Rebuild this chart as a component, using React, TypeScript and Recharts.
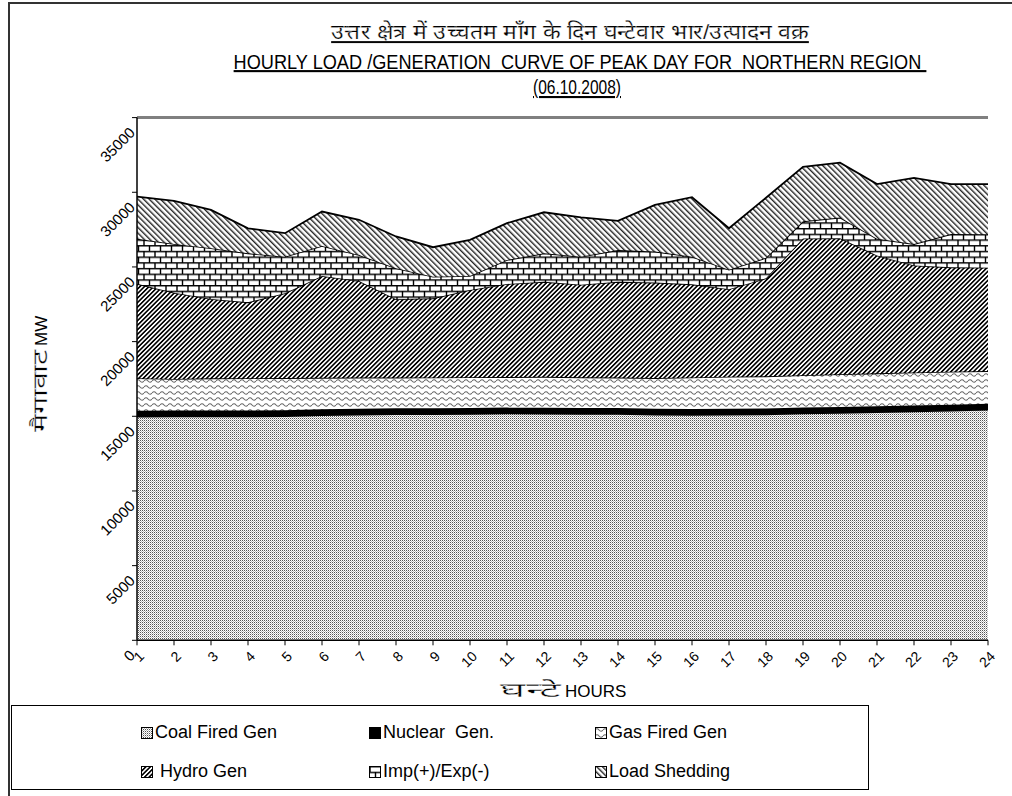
import React from 'react';
import { AreaChart, Area, XAxis, YAxis, ReferenceLine } from 'recharts';

const hours = ['1', '2', '3', '4', '5', '6', '7', '8', '9', '10', '11', '12', '13', '14', '15', '16', '17', '18', '19', '20', '21', '22', '23', '24'];

// MW per hour, stacked bottom to top
const coalGen = [14980, 14990, 15000, 14990, 15010, 15080, 15120, 15140, 15150, 15170, 15190, 15180, 15170, 15160, 15110, 15100, 15120, 15130, 15200, 15230, 15280, 15330, 15380, 15450];
const nuclearGen = [390, 390, 390, 390, 390, 390, 390, 390, 390, 390, 390, 390, 390, 390, 390, 390, 390, 390, 390, 390, 390, 390, 390, 390];
const gasGen = [2180, 2120, 2150, 2170, 2160, 2110, 2080, 2060, 2060, 2060, 2050, 2070, 2050, 2040, 2060, 2110, 2140, 2160, 2160, 2200, 2210, 2220, 2220, 2190];
const hydroGen = [6320, 5780, 5320, 5080, 5680, 6820, 6470, 5250, 5300, 5840, 6230, 6370, 6200, 6420, 6390, 6240, 5860, 6560, 9160, 9100, 7890, 7160, 6990, 6920];
const impExp = [3010, 3260, 3400, 3280, 2450, 2010, 1740, 2080, 1450, 940, 1610, 1900, 1880, 2120, 2080, 1850, 1310, 1370, 1150, 1390, 1120, 1430, 2220, 2240];
const loadShedding = [2830, 2880, 2560, 1670, 1570, 2300, 2360, 2120, 1970, 2410, 2460, 2750, 2630, 1960, 3130, 3980, 2770, 4020, 3640, 3670, 3660, 4430, 3340, 3350];

const yTicks = [0, 5000, 10000, 15000, 20000, 25000, 30000, 35000];

const series = [
  { key: 'coal', name: 'Coal Fired Gen', fill: 'url(#pCoal)' },
  { key: 'nuclear', name: 'Nuclear  Gen.', fill: '#000' },
  { key: 'gas', name: 'Gas Fired Gen', fill: 'url(#pGas)' },
  { key: 'hydro', name: ' Hydro Gen', fill: 'url(#pHydro)' },
  { key: 'imp', name: 'Imp(+)/Exp(-)', fill: 'url(#pBrick)' },
  { key: 'shed', name: 'Load Shedding', fill: 'url(#pShed)' },
];

const data = hours.map((hour, i) => ({
  hour,
  coal: coalGen[i],
  nuclear: nuclearGen[i],
  gas: gasGen[i],
  hydro: hydroGen[i],
  imp: impExp[i],
  shed: loadShedding[i],
}));

const FONT = "'Liberation Sans', Arial, sans-serif";

// thin white outline keeps the stretched Devanagari from looking bold
const hindi = { stroke: '#fff', strokeWidth: 0.35, fill: '#000' };

const XTick = (props: any) => {
  const { x, y, payload } = props;
  const ax = x + 8;
  const ay = y + 10;
  return (
    <text x={ax} y={ay} textAnchor="end" fontSize={14} fontFamily={FONT} fill="#000"
      transform={`rotate(-45, ${ax}, ${ay})`}>
      {payload.value}
    </text>
  );
};

const YTick = (props: any) => {
  const { x, y, payload } = props;
  const ax = x + 6;
  const ay = y + 16;
  return (
    <text x={ax} y={ay} textAnchor="end" fontSize={15} fontFamily={FONT} fill="#000"
      transform={`rotate(-45, ${ax}, ${ay})`}>
      {payload.value}
    </text>
  );
};

const Patterns = () => (
  <defs>
    <pattern id="pCoal" width="2" height="2" patternUnits="userSpaceOnUse">
      <rect width="2" height="2" fill="#fff" />
      <rect width="1" height="1" fill="#555" />
      <rect x="1" y="1" width="1" height="1" fill="#bbb" />
    </pattern>
    <pattern id="pGas" width="8" height="6" patternUnits="userSpaceOnUse">
      <rect width="8" height="6" fill="#fff" />
      <path d="M0 3 Q2 0.5 4 3 T8 3" fill="none" stroke="#666" strokeWidth="1.1" />
    </pattern>
    <pattern id="pHydro" width="3.2" height="3.2" patternUnits="userSpaceOnUse" patternTransform="rotate(45)">
      <rect width="3.2" height="3.2" fill="#fff" />
      <rect width="1.6" height="3.2" fill="#000" />
    </pattern>
    <pattern id="pShed" width="4" height="4" patternUnits="userSpaceOnUse" patternTransform="rotate(-45)">
      <rect width="4" height="4" fill="#fff" />
      <rect width="1.4" height="4" fill="#222" />
    </pattern>
    <pattern id="pBrick" width="11" height="11.4" patternUnits="userSpaceOnUse">
      <rect width="11" height="11.4" fill="#fff" />
      <path d="M0 0.7 H11 M0 6.4 H11 M1 0.7 V6.4 M6.5 6.4 V11.4" fill="none" stroke="#000" strokeWidth="1.4" />
    </pattern>
  </defs>
);

const LegendItem = ({ fill, name }: { fill: string; name: string }) => (
  <div style={{ display: 'flex', alignItems: 'center', whiteSpace: 'pre' }}>
    <svg width={12} height={12} style={{ marginRight: 2 }}>
      <rect x={0.5} y={0.5} width={11} height={11} fill={fill} stroke="#000" strokeWidth={1} />
    </svg>
    <span>{name}</span>
  </div>
);

export default function App() {
  const legendCols = [141, 369, 595];
  return (
    <div style={{ position: 'absolute', left: 0, top: 0, width: 1012, height: 796, background: '#fff', fontFamily: FONT, overflow: 'hidden' }}>
      {/* outer frame */}
      <div style={{ position: 'absolute', left: 8, top: 2, width: 1010, height: 800, borderTop: '2px solid #333', borderLeft: '2px solid #333' }} />

      <AreaChart width={1012} height={796} data={data} style={{ position: 'absolute', left: 0, top: 0 }}
        margin={{ top: 117.6, right: 24, bottom: 115.7, left: 77 }}>
        <Patterns />
        <XAxis dataKey="hour" interval={0} height={40} tick={<XTick />} tickSize={5}
          axisLine={{ stroke: '#000', strokeWidth: 1.5 }} tickLine={{ stroke: '#000' }} />
        <YAxis yAxisId="left" width={60} domain={[0, 35000]} ticks={yTicks} tick={<YTick />} tickSize={5}
          axisLine={{ stroke: '#000', strokeWidth: 1.5 }} tickLine={{ stroke: '#000' }} />
        <YAxis yAxisId="right" orientation="right" width={0} domain={[0, 35000]} tick={false} tickLine={false}
          axisLine={{ stroke: '#808080', strokeWidth: 3 }} />
        {series.map(s => (
          <Area key={s.key} yAxisId="left" type="linear" dataKey={s.key} name={s.name} stackId="gen"
            fill={s.fill} fillOpacity={1} stroke="#000" strokeWidth={1.8} isAnimationActive={false} dot={false} activeDot={false} />
        ))}
        <ReferenceLine yAxisId="left" y={35000} stroke="#808080" strokeWidth={3} />
      </AreaChart>

      {/* titles drawn as svg text so the narrow report lettering can be fitted to width */}
      <svg width={1012} height={796} style={{ position: 'absolute', left: 0, top: 0, pointerEvents: 'none' }} fontFamily={FONT}>
        <text x={570} y={39} textAnchor="middle" fontSize={21} {...hindi} strokeWidth={0.25} textLength={478} lengthAdjust="spacingAndGlyphs"
          style={{ textDecoration: 'underline' }}>
          उत्तर क्षेत्र में उच्चतम माँग के दिन घन्टेवार भार/उत्पादन वक्र
        </text>
        <g transform="translate(580,69) scale(0.865,1)">
          <text x={0} y={0} textAnchor="middle" fontSize={21} style={{ textDecoration: 'underline', whiteSpace: 'pre' }}>
            {'HOURLY LOAD /GENERATION  CURVE OF PEAK DAY FOR  NORTHERN REGION '}
          </text>
        </g>
        <text x={577} y={94} textAnchor="middle" fontSize={21} textLength={88} lengthAdjust="spacingAndGlyphs"
          style={{ textDecoration: 'underline' }}>
          (06.10.2008)
        </text>

        {/* y axis title */}
        <text transform="translate(47,432) rotate(-90)" fontSize={20} {...hindi} textLength={82} lengthAdjust="spacingAndGlyphs">मैगावाट</text>
        <text transform="translate(47,346) rotate(-90)" fontSize={17}>MW</text>

        {/* x axis title */}
        <text x={500} y={697} fontSize={20} {...hindi} textLength={60} lengthAdjust="spacingAndGlyphs">घन्टे</text>
        <text x={565} y={697} fontSize={17}>HOURS</text>
      </svg>

      {/* legend */}
      <div style={{ position: 'absolute', left: 11, top: 705, width: 856, height: 83, border: '1px solid #000', background: '#fff', fontSize: 18 }}>
        {series.map((s, i) => (
          <div key={s.key} style={{ position: 'absolute', left: legendCols[i % 3] - 12, top: i < 3 ? 16 : 55 }}>
            <LegendItem fill={s.fill} name={s.name} />
          </div>
        ))}
      </div>
    </div>
  );
}
